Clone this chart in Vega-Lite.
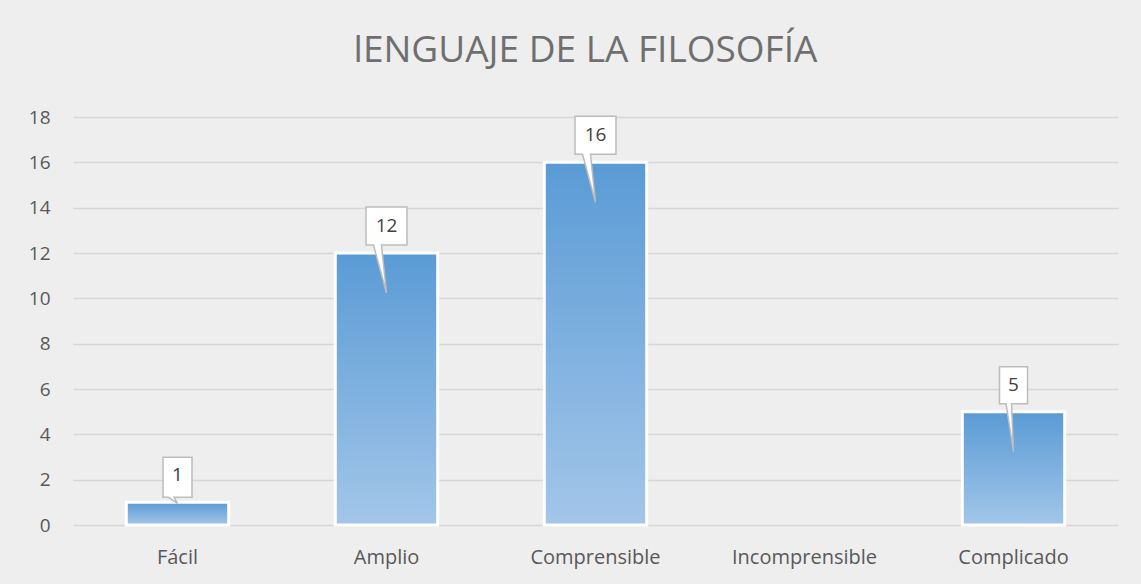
{
  "$schema": "https://vega.github.io/schema/vega-lite/v6.json",
  "width": 1045,
  "height": 408,
  "autosize": {"type": "none"},
  "padding": {"left": 73, "top": 117, "right": 23, "bottom": 59},
  "background": "#eeeeee",
  "title": {
    "text": "lENGUAJE DE LA FILOSOFÍA",
    "font": "Open Sans",
    "fontSize": 37,
    "fontWeight": "normal",
    "color": "#6f6f6f",
    "anchor": "middle",
    "dx": -10,
    "offset": 38
  },
  "config": {
    "view": {"stroke": null},
    "axis": {
      "labelFont": "Open Sans",
      "labelFontSize": 19,
      "labelColor": "#595959",
      "domain": false,
      "ticks": false,
      "grid": true,
      "gridColor": "#d6d6d6",
      "gridWidth": 1.3,
      "title": null
    }
  },
  "data": {
    "values": [
      {"category": "Fácil", "value": 1},
      {"category": "Amplio", "value": 12},
      {"category": "Comprensible", "value": 16},
      {"category": "Incomprensible", "value": 0},
      {"category": "Complicado", "value": 5}
    ]
  },
  "encoding": {
    "x": {
      "field": "category",
      "type": "nominal",
      "sort": null,
      "scale": {
        "domain": ["Fácil", "Amplio", "Comprensible", "Incomprensible", "Complicado"],
        "paddingInner": 0.51,
        "paddingOuter": 0.255
      },
      "axis": {"labelAngle": 0, "grid": false, "labelPadding": 22, "labelFontSize": 20}
    },
    "y": {
      "field": "value",
      "type": "quantitative",
      "scale": {"domain": [0, 18], "nice": false},
      "axis": {"values": [0, 2, 4, 6, 8, 10, 12, 14, 16, 18], "labelPadding": 23}
    }
  },
  "layer": [
    {
      "transform": [{"filter": "datum.value > 0"}],
      "mark": {
        "type": "bar",
        "stroke": "white",
        "strokeWidth": 3,
        "color": {
          "gradient": "linear",
          "x1": 0, "y1": 0, "x2": 0, "y2": 1,
          "stops": [
            {"offset": 0, "color": "#5a9bd5"},
            {"offset": 1, "color": "#a3c6e9"}
          ]
        }
      }
    },
    {
      "transform": [{"filter": "datum.value > 0"}],
      "mark": {
        "type": "point",
        "filled": true,
        "fill": "white",
        "fillOpacity": 1,
        "stroke": "#bcbcbc",
        "strokeWidth": 1.5,
        "size": 400,
        "opacity": 1
      },
      "encoding": {
        "shape": {
          "condition": [
            {"test": "datum.value >= 10", "value": "M-2.05,-4.6H2.05V-0.8H-0.5L0,4L-1.3,-0.8H-2.05Z"},
            {"test": "datum.value < 2", "value": "M-1.45,-4.5H1.45V-0.5H-0.35L0,0.1L-0.9,-0.5H-1.45Z"}
          ],
          "value": "M-1.4,-4.5H1.4V-0.8H-0.2L0,4L-0.75,-0.8H-1.4Z"
        }
      }
    },
    {
      "transform": [{"filter": "datum.value > 0"}],
      "mark": {
        "type": "text",
        "font": "Open Sans",
        "fontSize": 19,
        "color": "#404040",
        "baseline": "middle",
        "yOffset": -27
      },
      "encoding": {"text": {"field": "value", "type": "quantitative"}}
    }
  ]
}
